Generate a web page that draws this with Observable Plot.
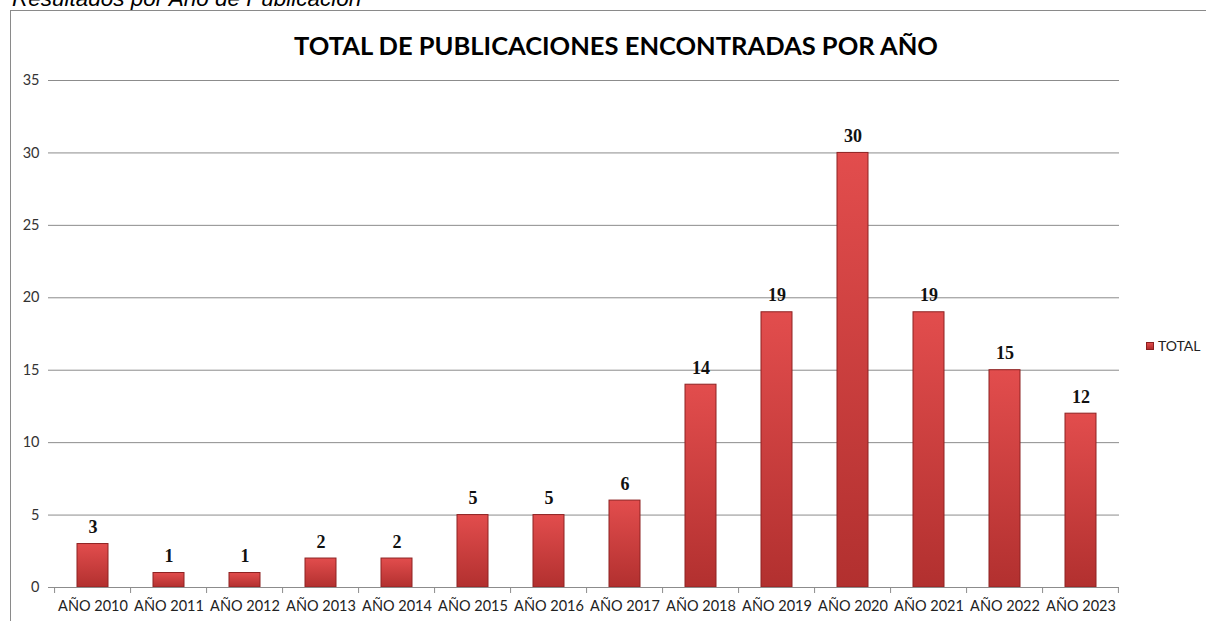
<!DOCTYPE html>
<html>
<head>
<meta charset="utf-8">
<script src="https://cdn.jsdelivr.net/npm/d3@7"></script>
<script src="https://cdn.jsdelivr.net/npm/@observablehq/plot@0.6"></script>
<style>
  html, body { margin: 0; padding: 0; background: #fff; }
  body { width: 1206px; height: 621px; position: relative; overflow: hidden; font-family: Lato, "Open Sans", sans-serif; }
  #caption { position: absolute; left: 12px; top: -12px; font-family: "Liberation Sans", Arial, sans-serif; font-style: italic; font-size: 22.5px; line-height: 22px; color: #000; white-space: nowrap; }
  #box { position: absolute; left: 10px; top: 10px; width: 1300px; height: 700px; border: 1px solid #8a8a8a; }
  #title { position: absolute; left: 0; width: 1232px; top: 30px; text-align: center; font-family: Lato, sans-serif; font-weight: bold; font-size: 25.5px; line-height: 30px; color: #000; white-space: nowrap; }
  #chart { position: absolute; left: 0; top: 60px; }
  #legend { position: absolute; left: 1146px; top: 338px; font-family: Lato, sans-serif; font-size: 14px; line-height: 16px; color: #222; display: flex; align-items: center; }
  #legend .sw { width: 8px; height: 8px; background: linear-gradient(#e04a4a, #b02c2c); border: 1px solid #8a1f1f; box-sizing: border-box; margin-right: 4px; }
</style>
</head>
<body>
<div id="caption">Resultados por Año de Publicación</div>
<div id="box"></div>
<div id="title">TOTAL DE PUBLICACIONES ENCONTRADAS POR AÑO</div>
<div id="chart"></div>
<div id="legend"><span class="sw"></span><span>TOTAL</span></div>
<script>
const years = ["AÑO 2010","AÑO 2011","AÑO 2012","AÑO 2013","AÑO 2014","AÑO 2015","AÑO 2016","AÑO 2017","AÑO 2018","AÑO 2019","AÑO 2020","AÑO 2021","AÑO 2022","AÑO 2023"];
const totals = [3, 1, 1, 2, 2, 5, 5, 6, 14, 19, 30, 19, 15, 12];
const yTicks = [0, 5, 10, 15, 20, 25, 30, 35];

const data = years.map((year, i) => ({year, total: totals[i]}));

const plot = Plot.plot({
  width: 1206,
  height: 561,
  marginLeft: 54,
  marginRight: 87,
  marginTop: 20,
  marginBottom: 34,
  style: {fontFamily: "Lato, sans-serif", fontSize: "14.5px", color: "#222", background: "transparent"},
  x: {domain: years, paddingInner: 0.59, paddingOuter: 0.295, label: null},
  y: {domain: [0, 35], label: null},
  marks: [
    Plot.gridY(yTicks, {stroke: "#8c8c8c", strokeOpacity: 1, strokeWidth: 1}),
    Plot.axisY(yTicks, {tickSize: 6, tickPadding: 9, stroke: "#8c8c8c", fill: "#333", fontSize: 14.5, label: null, line: true}),
    Plot.barY(data, {x: "year", y: "total", fill: "url(#barGrad)", stroke: "#8e2222", strokeWidth: 1}),
    Plot.ruleY([0], {stroke: "#8c8c8c"}),
    Plot.axisX({tickSize: 0, tickPadding: 13, fill: "#222", fontSize: 14.5, label: null}),
    Plot.text(data, {x: "year", y: "total", text: d => String(d.total), dy: -11, lineAnchor: "bottom", fontFamily: "'Liberation Serif', 'Times New Roman', serif", fontWeight: "bold", fontSize: 18, fill: "#111"})
  ]
});

// gradient definition for bars
const svg = d3.select(plot);
const defs = svg.insert("defs", ":first-child");
const g = defs.append("linearGradient").attr("id", "barGrad").attr("x1", 0).attr("y1", 0).attr("x2", 0).attr("y2", 1);
g.append("stop").attr("offset", "0%").attr("stop-color", "#e24d4d");
g.append("stop").attr("offset", "100%").attr("stop-color", "#b2302f");

// category boundary ticks on the x axis, from the library's x scale
const xs = plot.scale("x");
const ys = plot.scale("y");
const step = xs.step;
const half = step * xs.paddingInner / 2;
const y0 = ys.apply(0);
const bounds = years.map(v => xs.apply(v) - half).concat([xs.apply(years[years.length - 1]) + xs.bandwidth + half]);
svg.append("g").selectAll("line").data(bounds).join("line")
  .attr("x1", d => d).attr("x2", d => d).attr("y1", y0).attr("y2", y0 + 6)
  .attr("stroke", "#8c8c8c");

document.getElementById("chart").appendChild(plot);
</script>
</body>
</html>
